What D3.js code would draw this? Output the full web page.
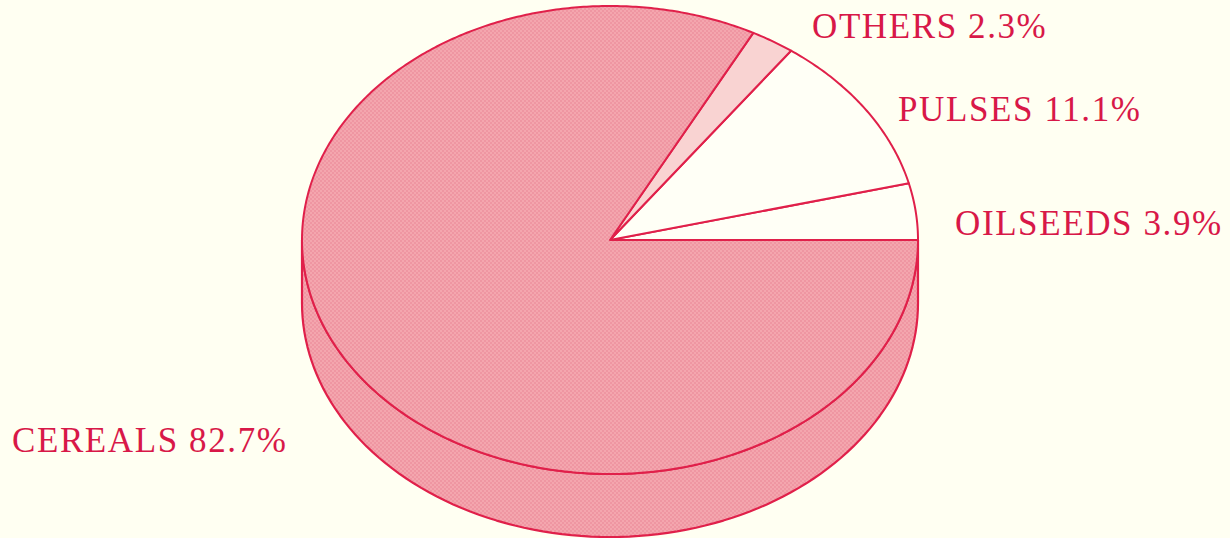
<!DOCTYPE html>
<html><head><meta charset="utf-8">
<script src="https://cdn.jsdelivr.net/npm/d3@7"></script>
<style>html,body{margin:0;padding:0;background:#fffff2;}svg{display:block;}</style>
</head><body>
<svg id="chart" width="1230" height="538"></svg>
<script>
const categories = ["OILSEEDS", "PULSES", "OTHERS", "CEREALS"];
const shares = [3.9, 11.1, 2.3, 82.7];
const labelText = ["OILSEEDS 3.9%", "PULSES 11.1%", "OTHERS 2.3%", "CEREALS 82.7%"];
const fills = ["#fffff6", "#fffff6", "#f9d3d2", "#f4a8b0"];

const W = 1230, H = 538;
const cx = 610, cy = 240, rx = 308, ry = 234, depth = 63;
const stroke = "#e0204a";
const svg = d3.select("#chart");

// halftone-like pattern
const defs = svg.append("defs");
const pat = defs.append("pattern").attr("id","dots").attr("width",4).attr("height",4).attr("patternUnits","userSpaceOnUse");
pat.append("rect").attr("width",4).attr("height",4).attr("fill","#f4a6ae");
pat.append("rect").attr("width",2).attr("height",2).attr("fill","#ef96a2");
pat.append("rect").attr("x",2).attr("y",2).attr("width",2).attr("height",2).attr("fill","#ef96a2");

const pie = d3.pie().sort(null).value(d => d)
  .startAngle(0).endAngle(2 * Math.PI);
const arcs = pie(shares);

function pt(a, dy) { return [cx + rx * Math.cos(a), cy - ry * Math.sin(a) + (dy || 0)]; }

// side wall (front half)
const sideSteps = d3.range(0, 101).map(i => Math.PI + Math.PI * i / 100);
const sidePath = d3.path();
{
  let p = pt(sideSteps[0]); sidePath.moveTo(p[0], p[1]);
  sideSteps.forEach(a => { const q = pt(a); sidePath.lineTo(q[0], q[1]); });
  sideSteps.slice().reverse().forEach(a => { const q = pt(a, depth); sidePath.lineTo(q[0], q[1]); });
  sidePath.closePath();
}
svg.append("path").attr("d", sidePath.toString())
  .attr("fill", "url(#dots)").attr("stroke", stroke).attr("stroke-width", 2.2).attr("stroke-linejoin","round");

// top slices
const lineGen = d3.line();
arcs.forEach((d, i) => {
  const a0 = d.startAngle, a1 = d.endAngle;
  const n = Math.max(4, Math.ceil((a1 - a0) / 0.01));
  const pts = [[cx, cy]];
  for (let k = 0; k <= n; k++) pts.push(pt(a0 + (a1 - a0) * k / n));
  svg.append("path").attr("d", lineGen(pts) + "Z")
    .attr("fill", i === 3 ? "url(#dots)" : fills[i])
    .attr("stroke", stroke).attr("stroke-width", 2).attr("stroke-linejoin","round");
});

// labels
const labelPos = [[955, 235], [898, 121], [812, 38], [12, 452]];
svg.selectAll("text.lbl").data(labelText).join("text")
  .attr("class","lbl")
  .attr("x", (d, i) => labelPos[i][0])
  .attr("y", (d, i) => labelPos[i][1])
  .attr("font-family", "Liberation Serif, Times New Roman, serif")
  .attr("font-size", 35)
  .attr("letter-spacing", 1.6)
  .attr("fill", "#d81848")
  .text(d => d);
</script>
</body></html>
